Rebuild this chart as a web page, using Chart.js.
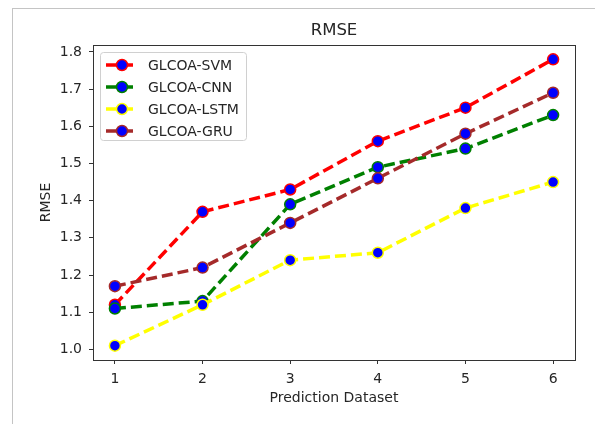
<!DOCTYPE html>
<html>
<head>
<meta charset="utf-8">
<script src="https://cdn.jsdelivr.net/npm/chart.js@4/dist/chart.umd.min.js"></script>
<style>
  html, body { margin: 0; padding: 0; background: #fff; }
  #frame { position: absolute; left: 12px; top: 8px; width: 600px; height: 430px;
           border-left: 1px solid #c4c4c4; border-top: 1px solid #c4c4c4; }
  #wrap { position: absolute; left: 0; top: 0; width: 595px; height: 424px; }
</style>
</head>
<body>
<div id="frame"></div>
<div id="wrap"><canvas id="chart1" width="595" height="424"></canvas></div>
<script>
// data
var datasetsX = [1, 2, 3, 4, 5, 6];
var yTicks = [1.0, 1.1, 1.2, 1.3, 1.4, 1.5, 1.6, 1.7, 1.8];
var seriesNames = ['GLCOA-SVM', 'GLCOA-CNN', 'GLCOA-LSTM', 'GLCOA-GRU'];
var svm  = [1.12, 1.37, 1.43, 1.56, 1.65, 1.78];
var cnn  = [1.11, 1.13, 1.39, 1.49, 1.54, 1.63];
var lstm = [1.01, 1.12, 1.24, 1.26, 1.38, 1.45];
var gru  = [1.17, 1.22, 1.34, 1.46, 1.58, 1.69];
var colors = ['#ff0000', '#008000', '#ffff00', '#a52a2a'];

var FONT = "'DejaVu Sans', sans-serif";
var TXT = '#262626';

function pts(vals) {
  return vals.map(function (v, i) { return { x: datasetsX[i], y: v }; });
}

function makeSet(label, vals, color, order) {
  return {
    label: label,
    data: pts(vals),
    borderColor: color,
    borderWidth: 3.5,
    borderDash: [11, 5],
    pointBackgroundColor: '#0000ff',
    pointBorderColor: color,
    pointBorderWidth: 1.5,
    pointRadius: 5.5,
    pointHoverRadius: 5.5,
    tension: 0,
    order: order
  };
}

// full box around the plot area + the title centred over it
var frameBox = {
  id: 'frameBox',
  afterDraw: function (chart) {
    var a = chart.chartArea, c = chart.ctx;
    c.save();
    c.strokeStyle = '#333';
    c.lineWidth = 1;
    c.strokeRect(Math.round(a.left) + 0.5, Math.round(a.top) + 0.5,
                 Math.round(a.right - a.left), Math.round(a.bottom - a.top));
    c.fillStyle = TXT;
    c.font = '16.5px ' + FONT;
    c.textAlign = 'center';
    c.textBaseline = 'middle';
    c.fillText('RMSE', (a.left + a.right) / 2, 31);
    c.restore();
  }
};

// legend drawn inside the axes, upper left
var innerLegend = {
  id: 'innerLegend',
  afterDraw: function (chart) {
    var c = chart.ctx;
    var x0 = 100, y0 = 52, w = 146, h = 88, r = 3;
    c.save();
    c.fillStyle = 'rgba(255,255,255,0.8)';
    c.strokeStyle = '#d0d0d0';
    c.lineWidth = 1;
    c.beginPath();
    c.roundRect(x0 + 0.5, y0 + 0.5, w, h, r);
    c.fill();
    c.stroke();
    chart.data.datasets.forEach(function (ds, i) {
      var y = y0 + 13 + i * 22;
      c.strokeStyle = ds.borderColor;
      c.lineWidth = 3.5;
      c.setLineDash([11, 5]);
      c.beginPath();
      c.moveTo(106, y);
      c.lineTo(138, y);
      c.stroke();
      c.setLineDash([]);
      c.beginPath();
      c.arc(122, y, 5.5, 0, Math.PI * 2);
      c.fillStyle = '#0000ff';
      c.fill();
      c.lineWidth = 1.5;
      c.strokeStyle = ds.borderColor;
      c.stroke();
      c.fillStyle = TXT;
      c.font = '14px ' + FONT;
      c.textBaseline = 'middle';
      c.fillText(ds.label, 148, y + 1);
    });
    c.restore();
  }
};

var ctx = document.getElementById('chart1').getContext('2d');
var myChart = new Chart(ctx, {
  type: 'line',
  data: {
    datasets: [
      makeSet(seriesNames[0], svm, colors[0], 3),
      makeSet(seriesNames[1], cnn, colors[1], 2),
      makeSet(seriesNames[2], lstm, colors[2], 1),
      makeSet(seriesNames[3], gru, colors[3], 0)
    ]
  },
  options: {
    responsive: false,
    animation: false,
    events: [],
    layout: { padding: { left: 34, right: 20, top: 45, bottom: 14 } },
    plugins: {
      legend: { display: false },
      tooltip: { enabled: false },
      title: { display: false }
    },
    scales: {
      x: {
        type: 'linear',
        min: 0.75,
        max: 6.25,
        afterBuildTicks: function (s) { s.ticks = datasetsX.map(function (v) { return { value: v }; }); },
        afterFit: function (s) { s.height = 50; },
        ticks: {
          color: TXT,
          font: { family: FONT, size: 14 },
          padding: 7,
          maxRotation: 0,
          callback: function (v) { return String(v); }
        },
        grid: { drawOnChartArea: false, drawTicks: true, tickLength: 4, color: '#333' },
        border: { display: false },
        title: {
          display: true,
          text: 'Prediction Dataset',
          color: TXT,
          font: { family: FONT, size: 14 },
          padding: { top: 4, bottom: 3 }
        }
      },
      y: {
        type: 'linear',
        min: 0.9715,
        max: 1.8185,
        afterBuildTicks: function (s) { s.ticks = yTicks.map(function (v) { return { value: v }; }); },
        afterFit: function (s) { s.width = 59; },
        ticks: {
          color: TXT,
          font: { family: FONT, size: 14 },
          padding: 7,
          callback: function (v) { return v.toFixed(1); }
        },
        grid: { drawOnChartArea: false, drawTicks: true, tickLength: 4, color: '#333' },
        border: { display: false },
        title: {
          display: true,
          text: 'RMSE',
          color: TXT,
          font: { family: FONT, size: 14 },
          padding: { top: 4, bottom: 4 }
        }
      }
    }
  },
  plugins: [frameBox, innerLegend]
});
</script>
</body>
</html>
